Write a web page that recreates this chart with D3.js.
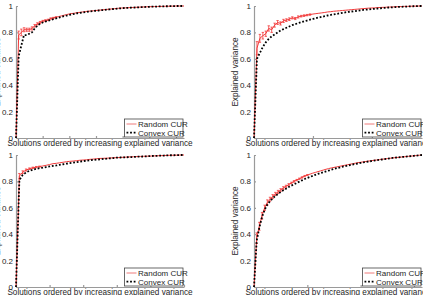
<!DOCTYPE html>
<html>
<head>
<meta charset="utf-8">
<script src="https://cdn.jsdelivr.net/npm/d3@7"></script>
<style>
    body { margin: 0; background: #fff; }
    svg { display: block; font-family: "Liberation Sans", Arial, sans-serif; }
    .tick text { fill: #262626; }
</style>
</head>
<body>
<script>
    // explained variance, sorted increasing, one array per panel and method
    var random1 = [0, 0.78, 0.80, 0.82, 0.82, 0.82, 0.83, 0.85, 0.865, 0.875, 0.885, 0.89, 0.895, 0.905, 0.91, 0.915,
        0.92, 0.925, 0.93, 0.935, 0.94, 0.943, 0.946, 0.95, 0.952, 0.955, 0.958, 0.96, 0.962, 0.964, 0.966, 0.968,
        0.97, 0.972, 0.974, 0.976, 0.978, 0.98, 0.982, 0.984, 0.985, 0.986, 0.987, 0.988, 0.989, 0.99, 0.991, 0.992,
        0.993, 0.994, 0.995, 0.995, 0.996, 0.996, 0.997, 0.997, 0.998, 0.998, 0.999, 0.999, 1, 1, 1, 1];
    var convex1 = [0, 0.62, 0.70, 0.78, 0.78, 0.79, 0.80, 0.83, 0.85, 0.865, 0.875, 0.882, 0.888, 0.895, 0.90, 0.906,
        0.912, 0.918, 0.923, 0.928, 0.933, 0.937, 0.941, 0.945, 0.948, 0.951, 0.954, 0.957, 0.96, 0.962, 0.964, 0.966,
        0.968, 0.97, 0.972, 0.974, 0.976, 0.978, 0.98, 0.982, 0.984, 0.985, 0.986, 0.987, 0.988, 0.989, 0.99, 0.991,
        0.992, 0.993, 0.994, 0.995, 0.995, 0.996, 0.997, 0.997, 0.998, 0.998, 0.999, 0.999, 1, 1, 1, 1];
    var randomErr1 = [0, 0.03, 0.025, 0.015, 0.012, 0.012, 0.012, 0.01, 0.008, 0.008, 0.006, 0.006, 0.005, 0.005, 0.004, 0.004];

    var random2 = [0, 0.68, 0.755, 0.775, 0.79, 0.83, 0.82, 0.855, 0.875, 0.868, 0.887, 0.893, 0.90, 0.91, 0.905, 0.917,
        0.923, 0.927, 0.931, 0.935, 0.939, 0.942, 0.945, 0.948, 0.951, 0.955, 0.957, 0.96, 0.962, 0.964, 0.966, 0.968,
        0.97, 0.972, 0.974, 0.976, 0.978, 0.98, 0.982, 0.984, 0.985, 0.986, 0.988, 0.989, 0.99, 0.991, 0.992, 0.993,
        0.994, 0.995, 0.996, 0.997, 0.997, 0.998, 0.999, 0.999, 1, 1];
    var convex2 = [0, 0.6, 0.645, 0.69, 0.725, 0.75, 0.77, 0.785, 0.80, 0.815, 0.825, 0.835, 0.845, 0.855, 0.863, 0.87,
        0.877, 0.884, 0.89, 0.896, 0.902, 0.908, 0.913, 0.918, 0.923, 0.928, 0.932, 0.936, 0.94, 0.944, 0.948, 0.952,
        0.955, 0.958, 0.961, 0.964, 0.967, 0.97, 0.972, 0.974, 0.977, 0.979, 0.981, 0.983, 0.985, 0.987, 0.989, 0.99,
        0.992, 0.993, 0.994, 0.995, 0.996, 0.997, 0.998, 0.999, 1, 1];
    var randomErr2 = [0, 0.05, 0.03, 0.025, 0.02, 0.02, 0.02, 0.015, 0.015, 0.012, 0.012, 0.01, 0.01, 0.008, 0.008,
        0.008, 0.006, 0.006, 0.005, 0.005];

    var random3 = [0, 0.84, 0.87, 0.886, 0.896, 0.903, 0.908, 0.912, 0.917, 0.922, 0.928, 0.934, 0.937, 0.941, 0.945,
        0.949, 0.952, 0.954, 0.957, 0.96, 0.962, 0.964, 0.967, 0.969, 0.972, 0.974, 0.975, 0.976, 0.977, 0.979, 0.98,
        0.981, 0.983, 0.984, 0.986, 0.987, 0.988, 0.989, 0.99, 0.991, 0.992, 0.993, 0.994, 0.995, 0.996, 0.997, 0.998,
        0.998, 0.999, 1, 1];
    var convex3 = [0, 0.81, 0.85, 0.868, 0.88, 0.888, 0.895, 0.9, 0.904, 0.909, 0.913, 0.917, 0.921, 0.926, 0.93,
        0.934, 0.938, 0.942, 0.946, 0.95, 0.954, 0.957, 0.96, 0.963, 0.965, 0.967, 0.97, 0.972, 0.975, 0.977, 0.98,
        0.981, 0.982, 0.983, 0.984, 0.985, 0.987, 0.988, 0.989, 0.99, 0.992, 0.993, 0.994, 0.995, 0.996, 0.997, 0.998,
        0.998, 0.999, 1, 1];
    var randomErr3 = [0, 0.02, 0.01, 0.008, 0.006, 0.005, 0.005, 0.004];

    var random4 = [0, 0.37, 0.46, 0.54, 0.60, 0.64, 0.665, 0.685, 0.705, 0.72, 0.735, 0.75, 0.763, 0.775, 0.788, 0.80,
        0.81, 0.82, 0.83, 0.84, 0.848, 0.855, 0.862, 0.868, 0.874, 0.88, 0.886, 0.892, 0.897, 0.902, 0.906, 0.91,
        0.914, 0.918, 0.922, 0.926, 0.93, 0.934, 0.938, 0.942, 0.945, 0.948, 0.951, 0.954, 0.957, 0.96, 0.962, 0.965,
        0.968, 0.97, 0.973, 0.975, 0.978, 0.98, 0.982, 0.984, 0.986, 0.988, 0.99, 0.992, 0.994, 0.996, 0.998, 1];
    var convex4 = [0, 0.35, 0.45, 0.53, 0.585, 0.625, 0.65, 0.672, 0.69, 0.705, 0.72, 0.733, 0.745, 0.757, 0.768, 0.778,
        0.788, 0.798, 0.808, 0.818, 0.826, 0.834, 0.842, 0.85, 0.857, 0.864, 0.87, 0.876, 0.882, 0.888, 0.894, 0.9,
        0.905, 0.91, 0.915, 0.92, 0.924, 0.928, 0.932, 0.936, 0.94, 0.944, 0.948, 0.951, 0.954, 0.957, 0.96, 0.963,
        0.966, 0.969, 0.972, 0.975, 0.978, 0.98, 0.982, 0.984, 0.986, 0.988, 0.99, 0.992, 0.994, 0.996, 0.998, 1];
    var randomErr4 = [0, 0.04, 0.03, 0.025, 0.02, 0.02, 0.015, 0.015, 0.012, 0.012, 0.01, 0.01, 0.008, 0.008, 0.006,
        0.006, 0.005, 0.005, 0.005, 0.005, 0.004];

    var xTicks1 = [10, 20, 30, 40, 50, 60],
        xTicks2 = [20, 40],
        xTicks3 = [10, 20, 30, 40, 50],
        xTicks4 = [20, 40, 60];
    var yTicks = [0, 0.2, 0.4, 0.6, 0.8, 1];
    var seriesNames = ["Random CUR", "Convex CUR"];
    var xLabel = "Solutions ordered by increasing explained variance",
        yLabel = "Explained variance";

    var _width = 423,
        _height = 295,
        _plotW = 168,
        _plotH = 132,
        _red = "#f23b3b",
        _fontSize = 8;

    var panels = [
        {left: 16, top: 6, random: random1, convex: convex1, err: randomErr1, ticks: xTicks1},
        {left: 254, top: 6, random: random2, convex: convex2, err: randomErr2, ticks: xTicks2},
        {left: 16, top: 155, random: random3, convex: convex3, err: randomErr3, ticks: xTicks3},
        {left: 254, top: 155, random: random4, convex: convex4, err: randomErr4, ticks: xTicks4}
    ];

    var svg = d3.select("body").append("svg")
        .attr("width", _width)
        .attr("height", _height);

    panels.forEach(function(p) {
        renderPanel(p);
    });

    function renderPanel(p) {
        var g = svg.append("g")
            .attr("transform", "translate(" + p.left + "," + p.top + ")");

        var x = d3.scaleLinear()
            .domain([0, p.random.length - 1])
            .range([0, _plotW]);
        var y = d3.scaleLinear()
            .domain([0, 1])
            .range([_plotH, 0]);

        // axes (MATLAB style: ticks pointing inward, no box)
        var xAxis = d3.axisBottom(x)
            .tickValues(p.ticks)
            .tickSizeInner(-2)
            .tickSizeOuter(0)
            .tickFormat("");
        var yAxis = d3.axisLeft(y)
            .tickValues(yTicks)
            .tickSizeInner(-2)
            .tickSizeOuter(0)
            .tickPadding(3)
            .tickFormat(function(d) { return d3.format("")(+d.toFixed(1)); });

        g.append("g")
            .attr("class", "x axis")
            .attr("transform", "translate(0," + _plotH + ")")
            .call(xAxis);
        g.append("g")
            .attr("class", "y axis")
            .call(yAxis)
            .selectAll("text")
            .style("font-size", _fontSize + "px");

        g.selectAll(".axis path, .axis line")
            .attr("stroke", "#9a9a9a")
            .attr("stroke-width", 1.2);

        // labels
        g.append("text")
            .attr("x", _plotW / 2)
            .attr("y", _plotH + 8)
            .attr("text-anchor", "middle")
            .style("font-size", "8.2px")
            .attr("fill", "#262626")
            .text(xLabel);
        g.append("text")
            .attr("transform", "translate(-16," + (_plotH / 2) + ") rotate(-90)")
            .attr("text-anchor", "middle")
            .style("font-size", "8.2px")
            .attr("fill", "#262626")
            .text(yLabel);

        var line = d3.line()
            .x(function(d, i) { return x(i); })
            .y(function(d) { return y(d); });

        // random CUR with error bars
        g.append("path")
            .datum(p.random)
            .attr("fill", "none")
            .attr("stroke", _red)
            .attr("stroke-width", 1)
            .attr("d", line);

        var bars = g.selectAll("g.err")
            .data(p.err.map(function(e, i) { return {i: i, v: p.random[i], e: e}; })
                .filter(function(d) { return d.e > 0; }))
            .enter()
            .append("g")
            .attr("class", "err")
            .attr("stroke", _red)
            .attr("stroke-width", 0.8);
        bars.append("line")
            .attr("x1", function(d) { return x(d.i); })
            .attr("x2", function(d) { return x(d.i); })
            .attr("y1", function(d) { return y(d.v - d.e); })
            .attr("y2", function(d) { return y(Math.min(1, d.v + d.e)); });
        bars.append("line")
            .attr("x1", function(d) { return x(d.i) - 1.2; })
            .attr("x2", function(d) { return x(d.i) + 1.2; })
            .attr("y1", function(d) { return y(d.v - d.e); })
            .attr("y2", function(d) { return y(d.v - d.e); });
        bars.append("line")
            .attr("x1", function(d) { return x(d.i) - 1.2; })
            .attr("x2", function(d) { return x(d.i) + 1.2; })
            .attr("y1", function(d) { return y(Math.min(1, d.v + d.e)); })
            .attr("y2", function(d) { return y(Math.min(1, d.v + d.e)); });

        // convex CUR, dotted black on top
        g.append("path")
            .datum(p.convex)
            .attr("fill", "none")
            .attr("stroke", "#000")
            .attr("stroke-width", 1.8)
            .attr("stroke-dasharray", "1.8,1.8")
            .attr("d", line);

        renderLegend(g);
    }

    function renderLegend(g) {
        var lw = 58.5, lh = 18;
        var lg = g.append("g")
            .attr("transform", "translate(" + (_plotW - 1 - lw) + "," + (_plotH - 1 - lh) + ")");

        lg.append("rect")
            .attr("width", lw)
            .attr("height", lh)
            .attr("fill", "#fff")
            .attr("stroke", "#444")
            .attr("stroke-width", 0.8);

        seriesNames.forEach(function(name, i) {
            var cy = 5 + i * 8.6;
            lg.append("line")
                .attr("x1", 2)
                .attr("x2", 12)
                .attr("y1", cy)
                .attr("y2", cy)
                .attr("stroke", i === 0 ? "#f07a7a" : "#000")
                .attr("stroke-width", i === 0 ? 1 : 1.8)
                .attr("stroke-dasharray", i === 0 ? null : "1.8,1.8");
            lg.append("text")
                .attr("x", 13.5)
                .attr("y", cy + 2.9)
                .style("font-size", _fontSize + "px")
                .attr("fill", "#262626")
                .text(name);
        });
    }
</script>
</body>
</html>
